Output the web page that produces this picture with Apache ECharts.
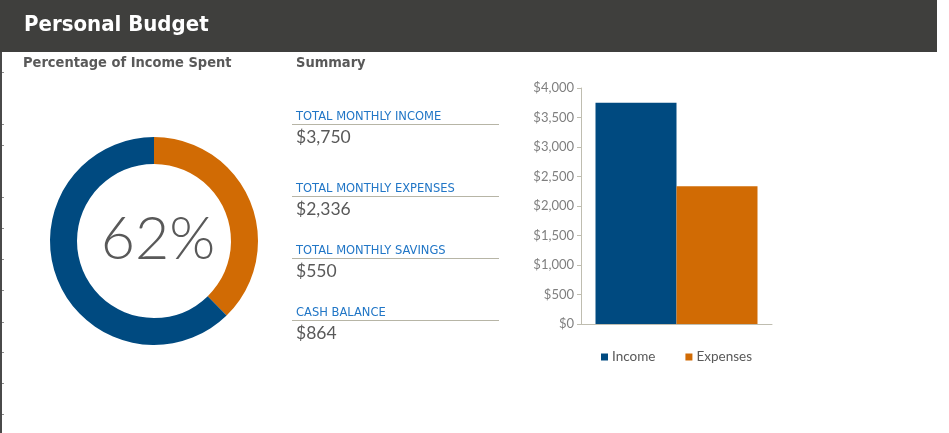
<!DOCTYPE html>
<html>
<head>
<meta charset="utf-8">
<script src="https://cdn.jsdelivr.net/npm/echarts@6/dist/echarts.min.js"></script>
<style>
html,body{margin:0;padding:0;background:#fff;}
#c{width:949px;height:433px;}
</style>
</head>
<body>
<div id="c"></div>
<script>
const title = 'Personal Budget';
const donutTitle = 'Percentage of Income Spent';
const summaryTitle = 'Summary';
const categories = ['Income', 'Expenses'];
const income = 3750;
const expenses = 2336;
const savings = 550;
const cashBalance = 864;
const summaryLabels = ['TOTAL MONTHLY INCOME', 'TOTAL MONTHLY EXPENSES', 'TOTAL MONTHLY SAVINGS', 'CASH BALANCE'];
const summaryValues = [income, expenses, savings, cashBalance];
const yTicks = [0, 500, 1000, 1500, 2000, 2500, 3000, 3500, 4000];

const BLUE = '#004a80';
const ORANGE = '#d16b04';
const GRAY = '#595959';
const LBLUE = '#2176c6';
const GEO = 'Lato, "Open Sans", sans-serif';
const TAH = '"DejaVu Sans", Verdana, sans-serif';
const TAHC = '"DejaVu Sans Condensed", "DejaVu Sans", sans-serif';

const fmt = v => '$' + v.toLocaleString('en-US');
const pct = Math.round(expenses / income * 100) + '%';

const chart = echarts.init(document.getElementById('c'), null, {renderer: 'canvas'});

const g = [];
// header
g.push({type: 'rect', shape: {x: 0, y: 0, width: 937, height: 52}, style: {fill: '#3f3f3d'}, z: 0});
g.push({type: 'text', style: {x: 24, y: 25.5, text: title, fill: '#fff', font: 'bold 22px ' + TAHC, textVerticalAlign: 'middle'}, z: 2});
// left edge
g.push({type: 'rect', shape: {x: 0, y: 52, width: 2, height: 381}, style: {fill: '#4a4a4a'}, z: 1});
[72, 124, 145, 197, 228, 259, 290, 322, 352, 383, 414].forEach(y => {
  g.push({type: 'rect', shape: {x: 2, y: y, width: 2, height: 1}, style: {fill: '#8a8a8a'}, z: 1});
});
// subtitles
g.push({type: 'text', style: {x: 23, y: 63, text: donutTitle, fill: GRAY, font: 'bold 14.5px ' + TAHC, textVerticalAlign: 'middle'}});
g.push({type: 'text', style: {x: 296, y: 63, text: summaryTitle, fill: GRAY, font: 'bold 14.5px ' + TAHC, textVerticalAlign: 'middle'}});
// donut center text
g.push({type: 'text', style: {x: 158, y: 240, text: pct, fill: GRAY, font: '300 59px ' + GEO, textAlign: 'center', textVerticalAlign: 'middle'}});
// summary
const rowY = [116, 188, 250, 312];
summaryLabels.forEach((lab, i) => {
  const y = rowY[i];
  g.push({type: 'text', style: {x: 296, y: y + 1, text: lab, fill: LBLUE, font: '11.5px ' + TAH, textVerticalAlign: 'middle'}});
  g.push({type: 'rect', shape: {x: 292, y: y + 8, width: 207, height: 1}, style: {fill: '#b7b5a6'}});
  g.push({type: 'text', style: {x: 296, y: y + 21, text: fmt(summaryValues[i]), fill: GRAY, font: '17.5px ' + GEO, textVerticalAlign: 'middle'}});
});

const option = {
  animation: false,
  backgroundColor: '#fff',
  graphic: g,
  grid: {left: 581, top: 88, right: 177, bottom: 109, containLabel: false},
  legend: {
    data: categories,
    left: 596, top: 345,
    itemWidth: 7, itemHeight: 7, itemGap: 30,
    icon: 'rect',
    textStyle: {color: GRAY, fontFamily: GEO, fontSize: 13.5, padding: [0, 0, 0, -1]}
  },
  xAxis: {
    type: 'category', data: [''],
    axisLine: {lineStyle: {color: '#bfbdb0'}},
    axisTick: {show: false}, axisLabel: {show: false}
  },
  yAxis: {
    type: 'value', min: yTicks[0], max: yTicks[yTicks.length - 1], interval: 500,
    axisLine: {show: true, lineStyle: {color: '#bfbdb0'}},
    axisTick: {show: true, length: 4, lineStyle: {color: '#bfbdb0'}},
    splitLine: {show: false},
    axisLabel: {color: '#7f7f7f', fontFamily: GEO, fontSize: 13, margin: 7, formatter: v => fmt(v)}
  },
  series: [
    {name: categories[0], type: 'bar', data: [income], barWidth: 81, barGap: '0%', itemStyle: {color: BLUE}},
    {name: categories[1], type: 'bar', data: [expenses], barWidth: 81, barGap: '0%', itemStyle: {color: ORANGE}},
    {
      name: 'pct', type: 'pie', center: [154, 241], radius: [77, 104],
      startAngle: 90, clockwise: true, silent: true,
      label: {show: false}, labelLine: {show: false},
      data: [
        {name: 'Remaining', value: income - expenses, itemStyle: {color: ORANGE}},
        {name: 'Spent', value: expenses, itemStyle: {color: BLUE}}
      ]
    }
  ]
};
chart.setOption(option);
</script>
</body>
</html>
